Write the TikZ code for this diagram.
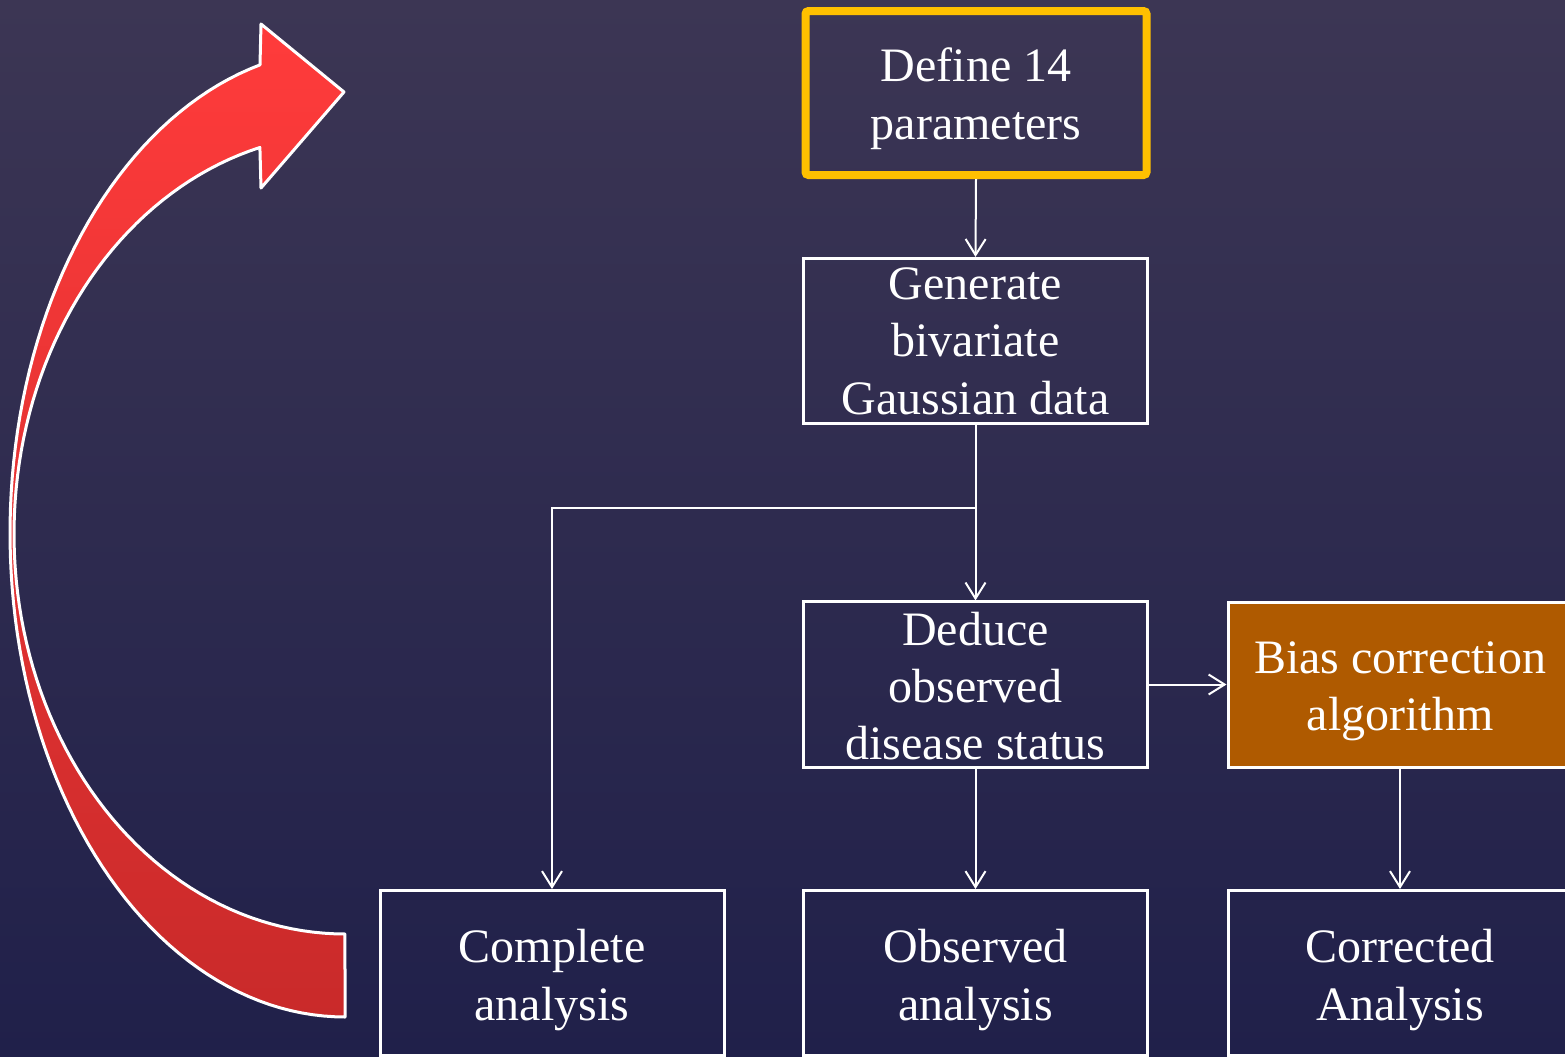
\documentclass[tikz,border=0pt]{standalone}
\usepackage{fontspec}
\setmainfont{Liberation Serif}
\usetikzlibrary{arrows.meta}
\definecolor{bgtop}{HTML}{3C3654}
\definecolor{bgbot}{HTML}{20204A}
\definecolor{keyyellow}{HTML}{FFC000}
\definecolor{biasfill}{HTML}{AF5A00}
\definecolor{redtop}{HTML}{FF3B3B}
\definecolor{redbot}{HTML}{C92A2A}
% centred multi-line label, lowered by #1 while keeping its measured size
\newcommand\boxlines[2]{\raisebox{#1}[\height][\depth]{\begin{tabular}{@{}c@{}}#2\end{tabular}}}
\begin{document}
\begin{tikzpicture}[x=0.5pt,y=-0.5pt,
  stepbox/.style={draw=white, line width=1.5pt, minimum width=172pt, minimum height=82.5pt,
    inner sep=0pt, text=white, font=\fontsize{24}{28.6}\selectfont},
  tallbox/.style={stepbox, inner ysep=-1.6pt},
  keybox/.style={stepbox, draw=keyyellow, line width=4pt, minimum width=170.5pt,
    minimum height=82pt, rounded corners=1.5pt},
  conn/.style={draw=white, line width=1pt, -{Straight Barb[length=8pt,width=10pt]}}]
\useasboundingbox (0,0) rectangle (1565,1056);
\clip (0,0) rectangle (1565,1056);
% backdrop
\shade[top color=bgtop, bottom color=bgbot] (0,0) rectangle (1565,1056);

% curved return arrow built from two elliptic arcs
\shadedraw[top color=redtop, bottom color=redbot, draw=white, line width=1.5pt, line join=round]
  plot[domain=90:255.3, samples=90] ({345+335*cos(\x)},{533+484*sin(\x)})
  -- (261,24) -- (344,92) -- (261,188)
  -- plot[domain=255.1:90, samples=90] ({345+331*cos(\x)},{534+400*sin(\x)})
  -- cycle;

% process boxes
\node[keybox] (def) at (976,93) {\boxlines{-3pt}{Define 14\\parameters}};
\node[tallbox] (gen) at (975.5,341) {\boxlines{-2.25pt}{Generate\\bivariate\\Gaussian data}};
\node[tallbox] (ded) at (975.5,684.5) {\boxlines{-3.3pt}{Deduce\\observed\\disease status}};
\node[stepbox, fill=biasfill] (bias) at (1400,684.5) {\boxlines{-3.2pt}{Bias correction\\algorithm}};
\node[stepbox] (comp) at (552,973) {\boxlines{-3.5pt}{Complete\\analysis}};
\node[stepbox] (obs) at (975.5,973) {\boxlines{-3.5pt}{Observed\\analysis}};
\node[stepbox] (corr) at (1400,973) {\boxlines{-3.5pt}{Corrected\\Analysis}};

% connectors
\coordinate (split) at (975.5,508);
\draw[conn] (def.south) -- (gen.north);
\draw[conn] (gen.south) -- (ded.north);
\draw[conn] (split) -| (comp.north);
\draw[conn] (ded.east) -- (bias.west);
\draw[conn] (ded.south) -- (obs.north);
\draw[conn] (bias.south) -- (corr.north);
\end{tikzpicture}
\end{document}
